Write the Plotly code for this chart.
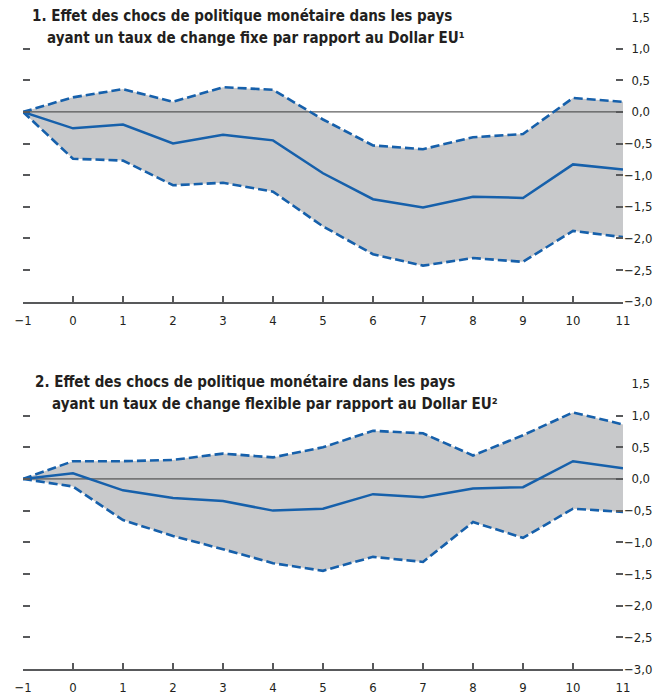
import plotly.graph_objects as go

# ---- data ----
horizons = [-1, 0, 1, 2, 3, 4, 5, 6, 7, 8, 9, 10, 11]

fixe_centre = [0, -0.26, -0.20, -0.50, -0.36, -0.45, -0.97, -1.38, -1.51, -1.34, -1.36, -0.83, -0.91]
fixe_haut = [0, 0.23, 0.36, 0.16, 0.39, 0.35, -0.12, -0.53, -0.59, -0.40, -0.35, 0.22, 0.16]
fixe_bas = [0, -0.74, -0.77, -1.16, -1.12, -1.26, -1.81, -2.25, -2.43, -2.31, -2.37, -1.88, -1.98]

flex_centre = [0, 0.09, -0.18, -0.30, -0.35, -0.50, -0.47, -0.24, -0.29, -0.15, -0.13, 0.28, 0.17]
flex_haut = [0, 0.28, 0.28, 0.30, 0.40, 0.34, 0.50, 0.76, 0.72, 0.37, 0.69, 1.05, 0.86]
flex_bas = [0, -0.12, -0.65, -0.90, -1.11, -1.33, -1.45, -1.23, -1.31, -0.68, -0.93, -0.47, -0.52]

y_tickvals = [1.5, 1.0, 0.5, 0.0, -0.5, -1.0, -1.5, -2.0, -2.5, -3.0]
y_ticktext = ["\u20071,5", "\u20071,0", "\u20070,5", "\u20070,0", "\u22120,5", "\u22121,0",
              "\u22121,5", "\u22122,0", "\u22122,5", "\u22123,0"]
x_tickvals = horizons
x_ticktext = ["\u22121", "0", "1", "2", "3", "4", "5", "6", "7", "8", "9", "10", "11"]

titre1 = ["1. Effet des chocs de politique monétaire dans les pays",
          "ayant un taux de change fixe par rapport au Dollar EU\u00b9"]
titre2 = ["2. Effet des chocs de politique monétaire dans les pays",
          "ayant un taux de change flexible par rapport au Dollar EU\u00b2"]

# ---- style ----
FONT = "DejaVu Sans Condensed, Arial Narrow, sans-serif"
BLUE = "#1660ab"
GREY = "#c8c9cb"
AXC = "#58595b"
TXT = "#231f20"

OFF = 8  # page body margin
W, H = 661, 690
ML, MR, MT, MB = 15, 46, 9, 29
PH = H - MT - MB
PW = W - ML - MR


def py(pix):
    return (H - MB - (pix - OFF)) / PH


def px(pix):
    return (pix - OFF - ML) / PW


fig = go.Figure()

panels = [
    ("x", "y", fixe_centre, fixe_haut, fixe_bas),
    ("x2", "y2", flex_centre, flex_haut, flex_bas),
]

for xa, ya, centre, haut, bas in panels:
    fig.add_trace(go.Scatter(x=horizons, y=bas, xaxis=xa, yaxis=ya, mode="lines",
                             line=dict(width=0, color=GREY), showlegend=False, hoverinfo="skip"))
    fig.add_trace(go.Scatter(x=horizons, y=haut, xaxis=xa, yaxis=ya, mode="lines",
                             fill="tonexty", fillcolor=GREY,
                             line=dict(width=0, color=GREY), showlegend=False, hoverinfo="skip"))
    fig.add_trace(go.Scatter(x=[horizons[0], horizons[-1]], y=[0, 0], xaxis=xa, yaxis=ya,
                             mode="lines", line=dict(width=1, color="#3a3a3a"),
                             showlegend=False, hoverinfo="skip"))
    for serie in (haut, bas):
        fig.add_trace(go.Scatter(x=horizons, y=serie, xaxis=xa, yaxis=ya, mode="lines",
                                 line=dict(width=2.6, color=BLUE, dash="9px,4px"),
                                 showlegend=False))
    fig.add_trace(go.Scatter(x=horizons, y=centre, xaxis=xa, yaxis=ya, mode="lines",
                             line=dict(width=2.5, color=BLUE), showlegend=False))

xcommon = dict(range=[-1, 11], tickmode="array", tickvals=x_tickvals, ticktext=x_ticktext,
               ticks="inside", ticklen=6, tickwidth=1.5, tickcolor=AXC, ticklabelstandoff=6,
               showline=True, linecolor=AXC, linewidth=1.5, showgrid=False, zeroline=False,
               tickfont=dict(family=FONT, size=13, color=TXT))
ycommon = dict(range=[-3, 1.5], tickmode="array", tickvals=y_tickvals, ticktext=y_ticktext,
               side="right", ticks="inside", ticklen=7, tickwidth=1.5, tickcolor=AXC,
               mirror="ticks", showline=False, showgrid=False, zeroline=False,
               tickfont=dict(family=FONT, size=13, color=TXT))

top_dom = [py(301.7), 1.0]
bot_dom = [0.0, py(383.9)]

fig.update_layout(
    width=W, height=H,
    margin=dict(l=ML, r=MR, t=MT, b=MB, autoexpand=False),
    paper_bgcolor="white", plot_bgcolor="white",
    separators=", ",
    xaxis=dict(anchor="y", domain=[0, 1], **xcommon),
    yaxis=dict(anchor="x", domain=top_dom, **ycommon),
    xaxis2=dict(anchor="y2", domain=[0, 1], **xcommon),
    yaxis2=dict(anchor="x2", domain=bot_dom, **ycommon),
)

annots = [
    (titre1[0], 30, 16), (titre1[1], 45, 38),
    (titre2[0], 33, 382), (titre2[1], 50, 404),
]
for txt, x0, yc in annots:
    fig.add_annotation(text="<b>" + txt + "</b>", xref="paper", yref="paper",
                       x=px(x0), y=py(yc), xanchor="left", yanchor="middle",
                       showarrow=False, font=dict(family=FONT, size=15, color=TXT))

fig.write_html("out.html")
